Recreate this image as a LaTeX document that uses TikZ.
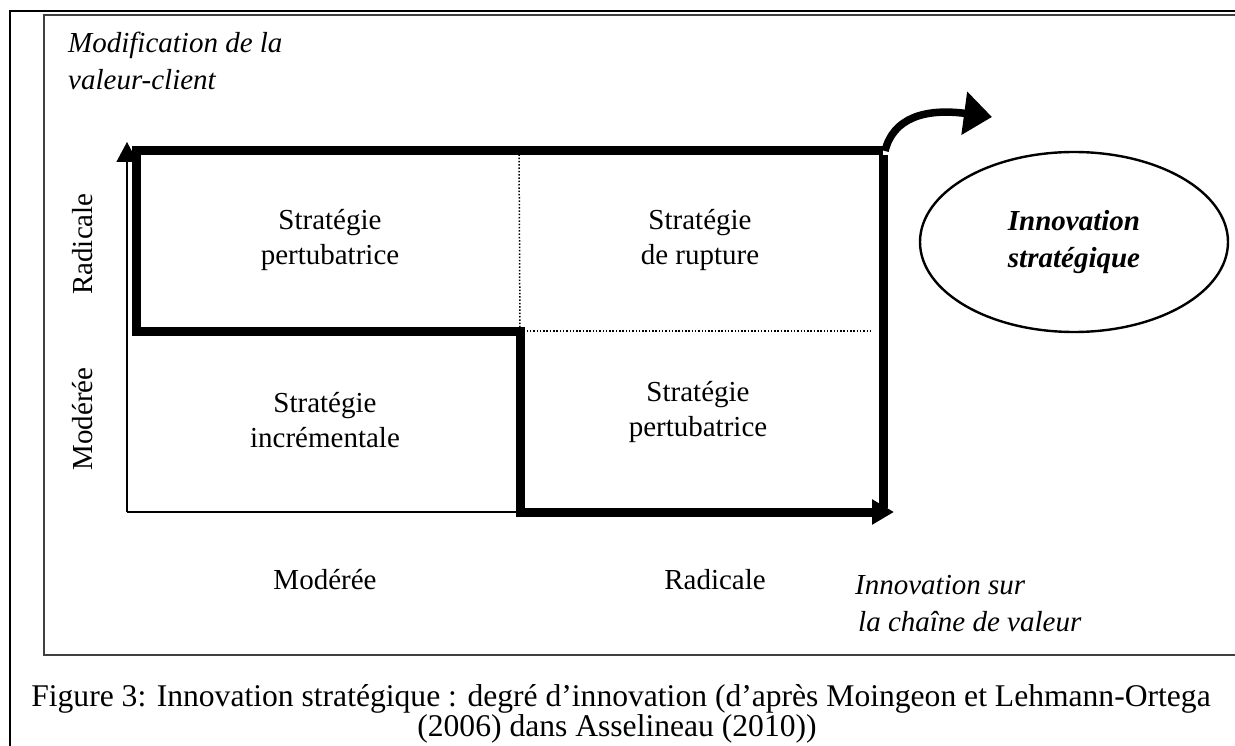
\documentclass[tikz,border=0pt]{standalone}
\usepackage{fontspec}
\setmainfont{Liberation Serif}
\usetikzlibrary{arrows.meta,shapes.geometric}
\begin{document}
\begin{tikzpicture}[x=1pt,y=-1pt,
  every node/.style={inner sep=0pt},
  txt/.style={font=\fontsize{29}{35}\selectfont, align=center},
  itxt/.style={font=\fontsize{29}{37}\selectfont\itshape},
  captxt/.style={font=\fontsize{31.6}{38}\selectfont},
  heavy/.style={line width=9pt, line join=miter},
  thinaxis/.style={line width=1.4pt},
  dotline/.style={line width=1.5pt, dash pattern=on 1.5pt off 1.8pt},
  outerframe/.style={line width=2.8pt},
  innerframe/.style={line width=1.4pt, black!75}]
\useasboundingbox (0,0) rectangle (1235,746);
\fill[white] (0,0) rectangle (1235,746);
% frames
\coordinate (ofa) at (10,760);
\coordinate (ofb) at (10,11);
\coordinate (ofc) at (1250,11);
\draw[outerframe] (ofa) -- (ofb) -- (ofc);
\coordinate (ifa) at (1250,15);
\coordinate (ifb) at (44,15);
\coordinate (ifc) at (44,655);
\coordinate (ifd) at (1250,655);
\draw[innerframe] (ifa) -- (ifb) -- (ifc) -- (ifd);
% key points
\coordinate (o) at (127,512);
\coordinate (ytip) at (127,142);
\coordinate (xm) at (520,512);
\coordinate (tl) at (136,151);
\coordinate (tr) at (883,151);
\coordinate (ml) at (136,331);
\coordinate (mm) at (520,331);
\coordinate (bm) at (520,512);
\coordinate (br) at (883,512);
\coordinate (xtip) at (894,512);
\coordinate (dv) at (519,151);
\coordinate (dh) at (870,331);
\coordinate (ctip) at (992,117);
% thin axes
\draw[thinaxis,-{Triangle[length=20pt,width=21pt]}] (o) -- (ytip);
\draw[thinaxis] (o) -- (xm);
% dotted grid
\draw[dotline] (dv) -- (mm);
\draw[dotline] (mm) -- (dh);
% heavy path
\draw[heavy,-{Triangle[length=22pt,width=24pt]}] (tr) -- (tl) -- (ml) -- (mm) -- (bm) -- (xtip);
\draw[heavy] ([yshift=-4pt]tr) -- ([yshift=4pt]br);
% curved arrow
\draw[line width=7.5pt,-{Triangle[length=28pt,width=42pt]}] ([xshift=2pt]tr) .. controls (893,118) and (925,108) .. (ctip);
% ellipse
\node[ellipse, draw, line width=2.4pt, minimum width=308pt, minimum height=180pt,
  font=\fontsize{29}{37}\selectfont\bfseries\itshape, align=center] (is) at (1074,242)
  {Innovation\\stratégique};
% quadrant texts
\node[txt] (q1) at (330,240) {Stratégie\\pertubatrice};
\node[txt] (q2) at (700,240) {Stratégie\\de rupture};
\node[txt] (q3) at (325,420) {Stratégie\\incrémentale};
\node[txt] (q4) at (698,412) {Stratégie\\pertubatrice};
% axis labels
\node[txt, rotate=90] (yr) at (83,244) {Radicale};
\node[txt, rotate=90] (ym) at (83,419) {Modérée};
\node[txt] (xmo) at (325,580) {Modérée};
\node[txt] (xra) at (715,580) {Radicale};
\node[itxt, anchor=base west] (yl1) at (68,53) {Modification de la};
\node[itxt, anchor=base west] (yl2) at (68,90) {valeur-client};
\node[itxt, anchor=base west] (xl1) at (855,594) {Innovation sur};
\node[itxt, anchor=base west] (xl2) at (858,631) {la chaîne de valeur};
% caption
\node[captxt, anchor=base] (cap1) at (621,706) {Figure 3: Innovation stratégique : degré d’innovation (d’après Moingeon et Lehmann-Ortega};
\node[captxt, anchor=base] (cap2) at (617,736) {(2006) dans Asselineau (2010))};
\end{tikzpicture}
\end{document}
